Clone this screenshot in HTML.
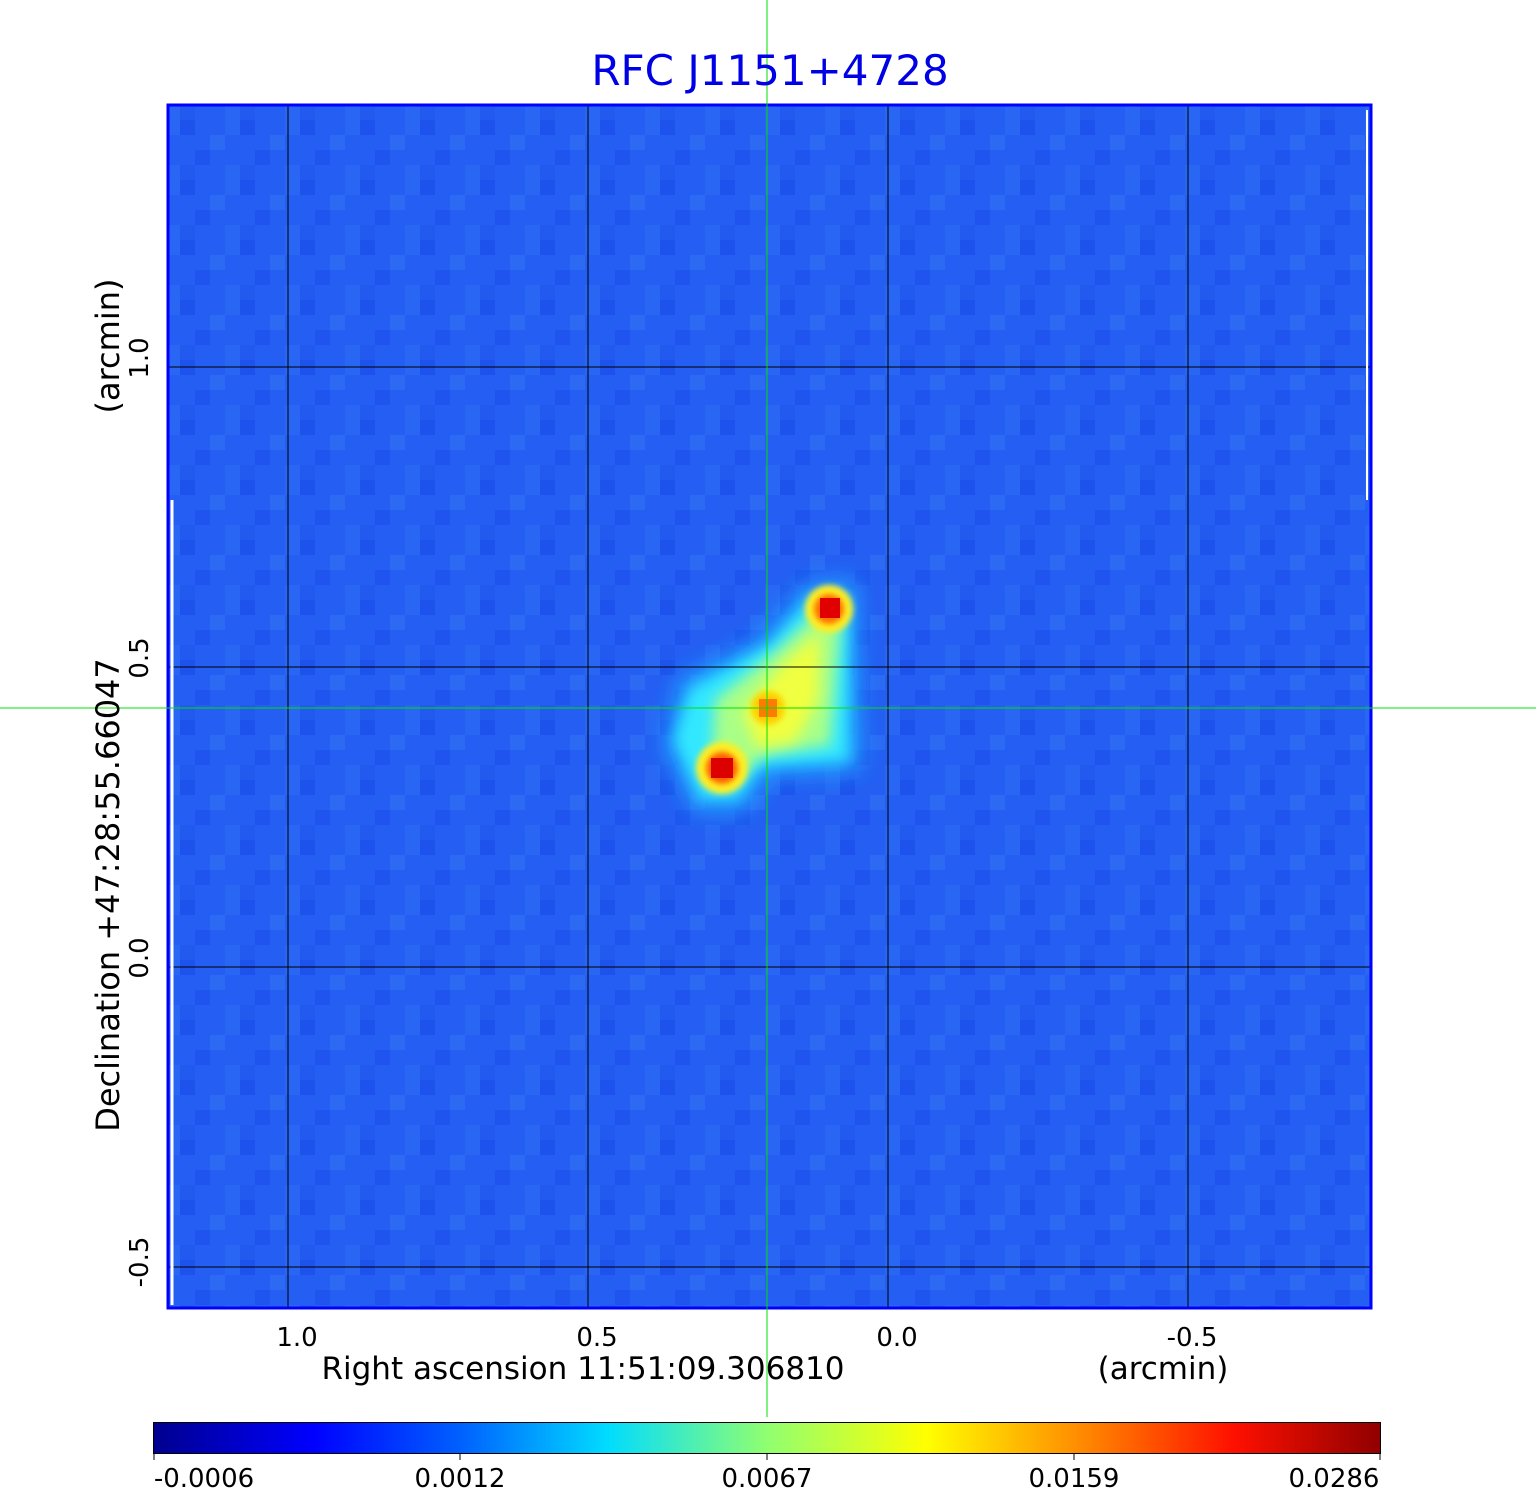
<!DOCTYPE html>
<html><head><meta charset="utf-8"><style>
body{margin:0;background:#fff;}
svg{display:block;font-family:"DejaVu Sans","Liberation Sans",sans-serif;}
</style></head><body>
<svg width="1536" height="1511" viewBox="0 0 1536 1511" xml:space="preserve">
<defs>
<filter id="b1" x="-50%" y="-50%" width="200%" height="200%"><feGaussianBlur stdDeviation="12"/></filter>
<filter id="b2" x="-50%" y="-50%" width="200%" height="200%"><feGaussianBlur stdDeviation="7"/></filter>
<filter id="b3" x="-50%" y="-50%" width="200%" height="200%"><feGaussianBlur stdDeviation="3"/></filter>
<pattern id="noise" width="60" height="60" patternUnits="userSpaceOnUse">
<rect width="60" height="60" fill="#245ef2"/>
<rect x="0" y="0" width="15" height="15" fill="#1e52ec"/>
<rect x="30" y="15" width="15" height="15" fill="#2c6af4"/>
<rect x="15" y="30" width="15" height="15" fill="#1f55ee"/>
<rect x="45" y="45" width="15" height="15" fill="#2a66f4"/>
<rect x="45" y="0" width="15" height="15" fill="#2866f3"/>
<rect x="0" y="45" width="15" height="15" fill="#2259ef"/>
</pattern>
<linearGradient id="cb" x1="0" x2="1" y1="0" y2="0">
<stop offset="0" stop-color="#00008f"/>
<stop offset="0.13" stop-color="#0000ff"/>
<stop offset="0.25" stop-color="#0060ff"/>
<stop offset="0.37" stop-color="#00dcff"/>
<stop offset="0.5" stop-color="#90ff70"/>
<stop offset="0.63" stop-color="#ffff00"/>
<stop offset="0.75" stop-color="#ff9000"/>
<stop offset="0.88" stop-color="#ff1000"/>
<stop offset="1" stop-color="#900000"/>
</linearGradient>
</defs>
<rect x="167" y="104" width="1205" height="1205" fill="url(#noise)"/>
<!-- source -->
<polygon points="680,680 760,640 805,585 855,580 860,770 765,775 745,810 695,810 665,745" fill="#1fa8ff" filter="url(#b1)"/>
<polygon points="690,690 770,645 812,598 848,595 848,760 760,765 738,798 700,798 675,740" fill="#30e8ff" filter="url(#b2)"/>
<polygon points="715,700 778,650 815,615 840,625 830,745 765,755 740,775 712,765" fill="#a8ff88" filter="url(#b2)"/>
<polygon points="742,712 785,662 820,632 818,700 795,742 758,748" fill="#f0ff40" filter="url(#b2)"/>
<circle cx="829" cy="609" r="24" fill="#ffee20" filter="url(#b3)"/>
<circle cx="829" cy="609" r="15" fill="#ff7000" filter="url(#b3)"/>
<rect x="820" y="598" width="20" height="20" fill="#e00000"/>
<circle cx="722" cy="768" r="26" fill="#ffee20" filter="url(#b3)"/>
<circle cx="722" cy="768" r="16" fill="#ff6000" filter="url(#b3)"/>
<rect x="711" y="758" width="22" height="20" fill="#dd0000"/>
<circle cx="768" cy="708" r="17" fill="#ffd000" filter="url(#b3)"/>
<rect x="759" y="699" width="18" height="18" fill="#ff7a00"/>
<!-- grid -->
<g stroke="#000" stroke-width="1">
<line x1="288" y1="104" x2="288" y2="1309"/><line x1="588" y1="104" x2="588" y2="1309"/>
<line x1="888" y1="104" x2="888" y2="1309"/><line x1="1188" y1="104" x2="1188" y2="1309"/>
<line x1="167" y1="367" x2="1372" y2="367"/><line x1="167" y1="667" x2="1372" y2="667"/>
<line x1="167" y1="967" x2="1372" y2="967"/><line x1="167" y1="1267" x2="1372" y2="1267"/>
</g>
<rect x="168" y="105" width="1203" height="1203" fill="none" stroke="#0000ff" stroke-width="3"/>
<line x1="172" y1="500" x2="172" y2="1305" stroke="#fff" stroke-width="3"/>
<line x1="1367" y1="110" x2="1367" y2="500" stroke="#fff" stroke-width="2"/>
<!-- crosshair -->
<line x1="767" y1="0" x2="767" y2="1417" stroke="#00e000" stroke-width="1"/>
<line x1="0" y1="708" x2="1536" y2="708" stroke="#00e000" stroke-width="1"/>
<!-- title -->
<text x="770" y="85" font-size="42" fill="#0000e6" text-anchor="middle">RFC J1151+4728</text>
<!-- x ticks -->
<g font-size="26" fill="#000" text-anchor="middle">
<text x="297" y="1346">1.0</text><text x="597" y="1346">0.5</text>
<text x="897" y="1346">0.0</text><text x="1192" y="1346">-0.5</text>
</g>
<text x="583" y="1379" font-size="31" text-anchor="middle">Right ascension  11:51:09.306810</text>
<text x="1163" y="1379" font-size="31" text-anchor="middle">(arcmin)</text>
<!-- y ticks -->
<g font-size="26" text-anchor="middle">
<text transform="translate(148,358) rotate(-90)">1.0</text>
<text transform="translate(148,658) rotate(-90)">0.5</text>
<text transform="translate(148,958) rotate(-90)">0.0</text>
<text transform="translate(148,1262) rotate(-90)">-0.5</text>
</g>
<text transform="translate(119,895) rotate(-90)" font-size="32" text-anchor="middle">Declination  +47:28:55.66047</text>
<text transform="translate(119,346) rotate(-90)" font-size="32" text-anchor="middle">(arcmin)</text>
<!-- colorbar -->
<rect x="153.5" y="1422.5" width="1227" height="31" fill="url(#cb)" stroke="#000" stroke-width="1"/>
<g stroke="#000"><line x1="154" y1="1453" x2="154" y2="1460"/><line x1="460" y1="1453" x2="460" y2="1460"/><line x1="767" y1="1453" x2="767" y2="1460"/><line x1="1074" y1="1453" x2="1074" y2="1460"/><line x1="1380" y1="1453" x2="1380" y2="1460"/></g>
<g font-size="26" text-anchor="middle">
<text x="204" y="1487">-0.0006</text><text x="460" y="1487">0.0012</text>
<text x="767" y="1487">0.0067</text><text x="1074" y="1487">0.0159</text><text x="1334" y="1487">0.0286</text>
</g>
</svg>
</body></html>
